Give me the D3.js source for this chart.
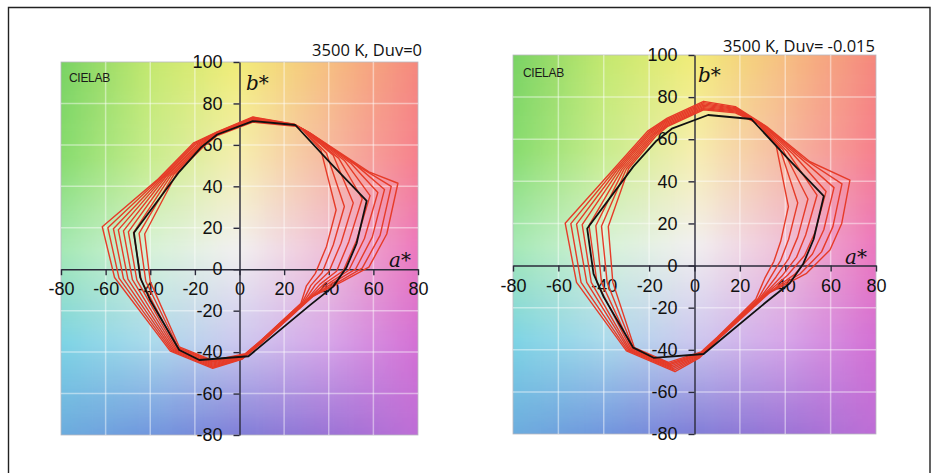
<!DOCTYPE html>
<html>
<head>
<meta charset="utf-8">
<script src="https://cdn.jsdelivr.net/npm/d3@7"></script>
<style>
  body { margin: 0; background: #ffffff; }
  svg { display: block; }
</style>
</head>
<body>
<svg id="chart" width="933" height="473"></svg>
<script>
// ---- axis ticks and titles ----
const ticksA = [-80, -60, -40, -20, 0, 20, 40, 60, 80];
const ticksB = [-80, -60, -40, -20, 0, 20, 40, 60, 80, 100];
const gridA = [-60, -40, -20, 20, 40, 60];
const gridB = [-60, -40, -20, 20, 40, 60, 80];
const panelTitles = ["3500 K, Duv=0", "3500 K, Duv= -0.015"];

// ---- reference illuminant gamut (a*, b*) ----
const referenceGamut = [
  [48, 1], [52.5, 12.5], [57, 33], [41, 51], [25, 69.6], [6, 71.5], [-10, 65],
  [-17, 59], [-27, 47], [-47.3, 17.6], [-44.5, -4], [-40, -15], [-27, -39],
  [-18, -43.8], [4, -42], [31.6, -17.3], [42, -8.4]
];

// ---- test source gamuts, Duv = 0 (outer to inner) ----
const gamutsDuv0 = [
  [[58,1],[66,17],[71,41.5],[58,47],[32,65.5],[24.5,70],[6,73.5],[-10,66.3],[-20.5,61],[-37,43],[-61.5,20.5],[-56,-4],[-31,-39.5],[-12,-47.8],[1,-43.5],[10,-35.5],[33,-13],[46,-6]],
  [[55,0.5],[63,16.3],[68,40],[55,48.5],[31.5,65.8],[24.6,69.9],[6,73.2],[-10,66.1],[-20,60.7],[-36,43.4],[-59,20],[-54,-4.3],[-30.5,-39.3],[-12,-47.3],[1.2,-43.2],[10,-35.3],[32.3,-13.5],[44,-6.3]],
  [[52,0],[59.5,15.5],[65,38.5],[52.5,50],[31,66],[24.7,69.8],[6,73],[-10,65.9],[-19.5,60.4],[-35,43.8],[-56.5,19.5],[-52,-4.5],[-30,-39],[-12,-46.8],[1.4,-42.8],[10,-35.1],[31.6,-14],[42,-6.5]],
  [[49,-0.5],[56,14.8],[62,37],[50,51],[30.5,66.3],[24.8,69.7],[6,72.7],[-10,65.6],[-19,60],[-34,44.2],[-54.3,19],[-50,-4.8],[-29.5,-38.8],[-12,-46.3],[1.6,-42.5],[10,-34.9],[30.9,-14.5],[40,-6.8]],
  [[46.5,-0.8],[52.5,14],[58.5,35.5],[47,52.5],[30,66.6],[24.9,69.6],[6,72.4],[-10,65.4],[-18.5,59.7],[-33,44.6],[-52,18.5],[-48,-5],[-29,-38.5],[-12,-45.8],[1.8,-42.1],[10,-34.7],[30.2,-15],[38,-7]],
  [[43.5,-1],[49,13.3],[55,34],[44.5,53.5],[29.5,66.8],[25,69.5],[6,72],[-10,65.2],[-18,59.4],[-31.8,45],[-49.8,18],[-46,-5.3],[-28.5,-38.3],[-12,-45.3],[2,-41.8],[10,-34.5],[29.5,-15.5],[36,-7.3]],
  [[40,-1.3],[45.5,12.5],[51,32],[42,55],[29,67],[25.1,69.4],[6,71.7],[-10,65],[-17.7,59],[-30.6,45.4],[-47.5,17.7],[-44,-5.5],[-28,-38],[-12,-44.8],[2.2,-41.5],[10,-34.3],[28.8,-15.8],[34,-7.5]],
  [[37,-1.7],[42,11.7],[47,30.3],[39,56],[28.5,67.3],[25.2,69.2],[6,71.4],[-10,64.8],[-17.3,58.7],[-29.4,45.8],[-45,17.3],[-42,-5.8],[-27.5,-37.8],[-12,-44.4],[2.4,-41.1],[10,-34.1],[28.1,-16.1],[32,-7.8]],
  [[34,-2],[39,11],[43.3,28.6],[36.5,57.5],[28,67.5],[25.3,69],[6,71],[-10,64.5],[-17,58.3],[-28.2,46.2],[-42.5,17],[-40,-6],[-27,-37.5],[-12,-44],[2.6,-40.8],[10,-34],[27.5,-16.5],[30,-8]]
];

// ---- test source gamuts, Duv = -0.015 (outer to inner) ----
const gamutsDuvNeg = [
  [[59.7,7.4],[64.9,20],[68.5,40.6],[50.9,49.3],[31.8,66],[18,75.5],[4,78],[-12,70],[-20.5,64],[-36,45.4],[-57,20.1],[-52,-8],[-30,-40.5],[-8.6,-50.4],[2,-44],[10,-35.5],[33,-13],[49.4,-3.7]],
  [[56,6.5],[61,18.5],[65,38.8],[48.5,50.5],[31.2,66.2],[18,75],[4,77.4],[-12,69.4],[-20,63.6],[-35,45.5],[-54.5,19.9],[-50,-8],[-29.5,-40.3],[-9,-49.7],[2.1,-43.5],[10,-35.3],[32,-13.5],[46.5,-4]],
  [[52,5.5],[57,17],[61.5,37],[46,51.7],[30.6,66.4],[18,74.6],[4,76.8],[-12,68.8],[-19.5,63.3],[-34,45.6],[-52,19.7],[-47.5,-8],[-29,-40.1],[-9.4,-49],[2.3,-43],[10,-35.1],[31.2,-14],[44,-4.3]],
  [[48.5,4.8],[53,15.5],[58,35.2],[43.5,52.9],[30,66.6],[18,74.2],[4,76.2],[-12,68.2],[-19,63],[-33,45.7],[-49.5,19.4],[-45.5,-8],[-28.5,-39.9],[-9.8,-48.3],[2.4,-42.5],[10,-34.9],[30.4,-14.5],[41,-4.6]],
  [[45,4],[49,14.5],[54,33.4],[41,54],[29.4,66.8],[18,73.8],[4,75.6],[-12,67.6],[-18.5,62.6],[-32,45.8],[-46.5,19.1],[-43,-8],[-28,-39.7],[-10.2,-47.6],[2.6,-42],[10,-34.7],[29.6,-15],[38.5,-5]],
  [[41.5,3.3],[45.5,13.5],[50,31.6],[39,55],[28.8,67],[18,73.4],[4,75],[-12,67],[-18,62.3],[-31,45.9],[-43.5,18.9],[-41,-8],[-27.5,-39.5],[-10.6,-47],[2.7,-41.8],[10,-34.5],[28.8,-15.5],[36,-5.3]],
  [[38,2.5],[41.5,12.5],[45.5,29.8],[37.5,56],[28.4,67.2],[18,73],[4,74.5],[-12,66.5],[-17.5,62],[-30,46],[-41,18.7],[-38.5,-8],[-27,-39.3],[-11,-46.5],[2.8,-41.5],[10,-34.3],[28,-15.8],[33.5,-5.6]],
  [[35,2],[38,11.5],[41.4,28],[36,57],[28,67.4],[18,72.5],[4,74],[-12,66],[-17,61.5],[-29,46.1],[-38,18.5],[-36,-8],[-26.5,-39],[-11.5,-46],[3,-41],[10,-34],[27,-16],[31,-6]]
];

// ---- background colour field, sampled at a* = -80..80 (step 40), b* rows ----
const bgA = [-80, -40, 0, 40, 80];
const bgB = [100, 55, 10, -35, -80];
const bgColors = [
  ["rgb(120,210,100)", "rgb(195,232,110)", "rgb(242,236,120)", "rgb(246,190,128)", "rgb(245,135,125)"],
  ["rgb(135,220,110)", "rgb(200,236,140)", "rgb(246,238,175)", "rgb(246,185,160)", "rgb(246,128,140)"],
  ["rgb(165,232,180)", "rgb(215,242,215)", "rgb(242,240,240)", "rgb(240,192,215)", "rgb(236,120,190)"],
  ["rgb(125,212,228)", "rgb(170,218,235)", "rgb(205,200,238)", "rgb(215,165,232)", "rgb(212,112,212)"],
  ["rgb(108,172,222)", "rgb(112,150,222)", "rgb(128,126,216)", "rgb(155,115,214)", "rgb(190,110,214)"]
];

const svg = d3.select("#chart");
const defs = svg.append("defs");
defs.append("filter").attr("id", "soft")
  .attr("x", "-5%").attr("y", "-5%").attr("width", "110%").attr("height", "110%")
  .append("feGaussianBlur").attr("stdDeviation", 2.5);

// outer frame
svg.append("path")
  .attr("d", "M8.5,480 V7.5 H930 V480")
  .attr("fill", "none").attr("stroke", "#222").attr("stroke-width", 1.4);

function bgColor(a, b) {
  // bilinear blend inside the sampled colour field
  const ia = Math.max(0, Math.min(bgA.length - 2, Math.floor((a - bgA[0]) / 40)));
  const ta = Math.max(0, Math.min(1, (a - bgA[ia]) / (bgA[ia + 1] - bgA[ia])));
  let ib = 0;
  while (ib < bgB.length - 2 && b < bgB[ib + 1]) ib++;
  const tb = Math.max(0, Math.min(1, (bgB[ib] - b) / (bgB[ib] - bgB[ib + 1])));
  const top = d3.interpolateRgb(bgColors[ib][ia], bgColors[ib][ia + 1])(ta);
  const bot = d3.interpolateRgb(bgColors[ib + 1][ia], bgColors[ib + 1][ia + 1])(ta);
  return d3.interpolateRgb(top, bot)(tb);
}

const panels = [
  { id: "p0", x0: 61, x1: 418, y0: 62, y1: 435, gamuts: gamutsDuv0, title: panelTitles[0],
    titleX: 422, titleY: 56, cieX: 69, cieY: 82, bX: 246, bY: 90, aX: 389, aY: 267 },
  { id: "p1", x0: 513, x1: 876, y0: 55, y1: 434, gamuts: gamutsDuvNeg, title: panelTitles[1],
    titleX: 875, titleY: 52, cieX: 523, cieY: 77, bX: 698, bY: 82, aX: 845, aY: 264 }
];

const tickFont = "'Liberation Sans', Arial, sans-serif";

panels.forEach(p => {
  const x = d3.scaleLinear().domain([-80, 80]).range([p.x0, p.x1]);
  const y = d3.scaleLinear().domain([-80, 100]).range([p.y1, p.y0]);
  const g = svg.append("g");

  defs.append("clipPath").attr("id", "clip-" + p.id)
    .append("rect").attr("x", p.x0).attr("y", p.y0)
    .attr("width", p.x1 - p.x0).attr("height", p.y1 - p.y0);

  // colour field
  const cells = [];
  for (let a = -84; a < 84; a += 2) {
    for (let b = -84; b < 104; b += 2) cells.push([a, b]);
  }
  g.append("g").attr("clip-path", `url(#clip-${p.id})`)
    .append("g").attr("filter", "url(#soft)")
    .selectAll("rect").data(cells).join("rect")
    .attr("x", d => x(d[0]))
    .attr("y", d => y(d[1] + 2))
    .attr("width", x(2) - x(0) + 0.6)
    .attr("height", y(0) - y(2) + 0.6)
    .attr("fill", d => bgColor(d[0] + 1, d[1] + 1));

  g.append("rect").attr("x", p.x0).attr("y", p.y0)
    .attr("width", p.x1 - p.x0).attr("height", p.y1 - p.y0)
    .attr("fill", "none").attr("stroke", "#b8b8c0").attr("stroke-width", 0.8);

  // grid
  g.append("g").selectAll("line").data(gridA).join("line")
    .attr("x1", d => x(d)).attr("x2", d => x(d))
    .attr("y1", p.y0).attr("y2", p.y1)
    .attr("stroke", "#ffffff").attr("stroke-opacity", 0.45).attr("stroke-width", 1.5);
  g.append("g").selectAll("line").data(gridB).join("line")
    .attr("x1", p.x0).attr("x2", p.x1)
    .attr("y1", d => y(d)).attr("y2", d => y(d))
    .attr("stroke", "#ffffff").attr("stroke-opacity", 0.45).attr("stroke-width", 1.5);

  // axes
  const axX = g.append("g").attr("transform", `translate(0,${y(0)})`)
    .call(d3.axisBottom(x).tickValues(ticksA).tickSize(6).tickSizeOuter(0).tickPadding(7.5));
  const axY = g.append("g").attr("transform", `translate(${x(0)},0)`)
    .call(d3.axisLeft(y).tickValues(ticksB).tickSize(6).tickSizeOuter(0).tickPadding(11));
  [axX, axY].forEach(ax => {
    ax.select(".domain").attr("stroke", "#2a2a3a").attr("stroke-width", 1.4);
    ax.selectAll(".tick line").attr("stroke", "#2a2a3a").attr("stroke-width", 1.4);
    ax.selectAll(".tick text").attr("fill", "#111")
      .style("font-family", tickFont).style("font-size", "18px")
      .text(d => String(d));
  });

  // gamut polygons
  const line = d3.line().x(d => x(d[0])).y(d => y(d[1])).curve(d3.curveLinearClosed);
  g.append("g").selectAll("path").data(p.gamuts).join("path")
    .attr("d", line)
    .attr("fill", "none").attr("stroke", "#e63b28").attr("stroke-width", 1.4)
    .attr("stroke-linejoin", "round");
  g.append("path").datum(referenceGamut)
    .attr("d", line)
    .attr("fill", "none").attr("stroke", "#111").attr("stroke-width", 1.8)
    .attr("stroke-linejoin", "round");

  // labels
  svg.append("text").attr("x", p.titleX).attr("y", p.titleY)
    .attr("text-anchor", "end").attr("fill", "#111")
    .style("font-family", "'Open Sans', sans-serif").style("font-size", "16.5px")
    .text(p.title);
  svg.append("text").attr("x", p.cieX).attr("y", p.cieY)
    .attr("fill", "#1a1a1a")
    .style("font-family", "'Liberation Sans', Arial, sans-serif").style("font-size", "12px")
    .style("letter-spacing", "-0.3px")
    .text("CIELAB");
  svg.append("text").attr("x", p.bX).attr("y", p.bY)
    .attr("fill", "#111")
    .style("font-family", "'DejaVu Serif', serif").style("font-style", "italic").style("font-size", "20px")
    .text("b*");
  svg.append("text").attr("x", p.aX).attr("y", p.aY)
    .attr("fill", "#111")
    .style("font-family", "'DejaVu Serif', serif").style("font-style", "italic").style("font-size", "20px")
    .text("a*");
});
</script>
</body>
</html>
